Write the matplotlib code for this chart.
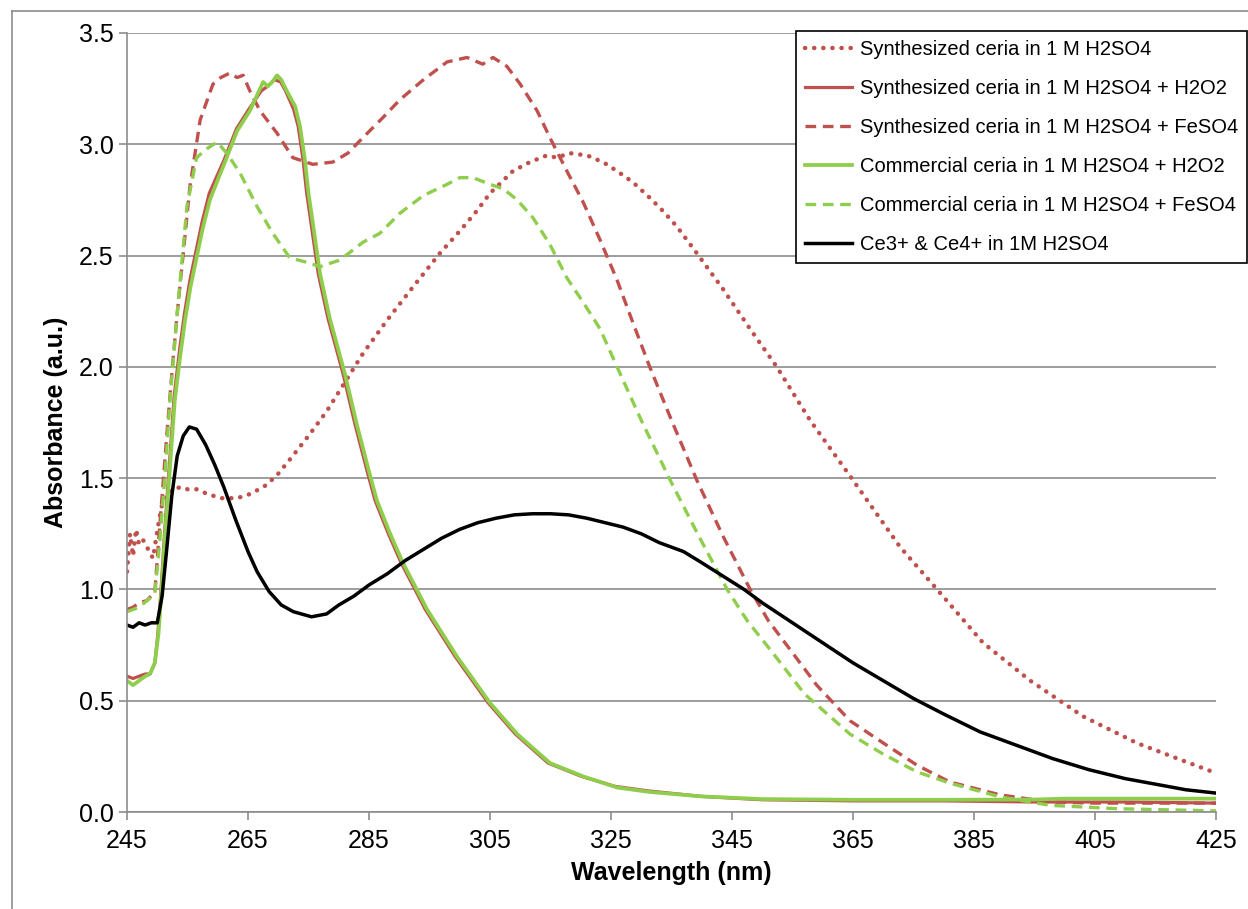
import matplotlib.pyplot as plt
from matplotlib.lines import Line2D

plt.rcParams["font.family"] = ["Liberation Sans", "DejaVu Sans"]

RED = "#c0504d"
GREEN = "#8fce4c"

# Synthesized ceria in 1 M H2SO4 (dotted)
syn_wl = [245, 245.5, 246, 246.5, 247, 247.7, 248.5, 249.3, 250.1, 251, 252, 253.8,
          255, 256.5, 258.2, 260.5, 263.2, 265.5, 268.1, 270, 272.4, 275, 278, 281,
          284, 288, 292.3, 296.7, 300, 302.8, 305, 308.8, 311.6, 314.4, 316, 318.2,
          321, 322, 324.3, 326.5, 328.6, 331.4, 333.6, 335.9, 339.2, 343.5, 348,
          352.4, 357.9, 364.5, 372.8, 378.9, 386.5, 394.3, 403, 411.9, 419.6, 425]
syn_abs = [1.08, 1.25, 1.15, 1.27, 1.20, 1.22, 1.18, 1.14, 1.28, 1.41, 1.44, 1.46,
           1.45, 1.45, 1.43, 1.41, 1.41, 1.43, 1.47, 1.52, 1.60, 1.69, 1.80, 1.93,
           2.06, 2.21, 2.36, 2.51, 2.61, 2.70, 2.78, 2.88, 2.92, 2.95, 2.94, 2.96,
           2.95, 2.94, 2.91, 2.87, 2.83, 2.76, 2.70, 2.63, 2.51, 2.35, 2.17,
           2.00, 1.76, 1.51, 1.19, 1.00, 0.76, 0.59, 0.43, 0.31, 0.23, 0.175]

# Synthesized ceria in 1 M H2SO4 + H2O2 (solid red)
syn_h2o2_wl = [245, 246, 247, 248, 248.8, 249.6, 250.1, 250.7, 251.2, 252.0, 252.8,
               253.7, 254.5, 255.4, 256.4, 257.4, 258.6, 259.9, 260.9, 263.1, 265.2,
               267.2, 268.2, 269.4, 270.4, 271.2, 272.5, 273.3, 274.1, 274.7, 275.5,
               276.6, 278.2, 280.7, 282.7, 284.7, 286.0, 288.2, 290.3, 294.3, 299.2,
               304.7, 309.2, 314.6, 320.1, 325.7, 331.1, 340, 350, 365, 380, 395, 410, 425]
syn_h2o2_abs = [0.61, 0.60, 0.61, 0.62, 0.62, 0.67, 0.80, 1.03, 1.25, 1.56, 1.87,
                2.08, 2.24, 2.39, 2.52, 2.65, 2.78, 2.86, 2.92, 3.07, 3.16,
                3.24, 3.26, 3.29, 3.28, 3.24, 3.16, 3.08, 2.93, 2.78, 2.63,
                2.42, 2.22, 1.97, 1.74, 1.53, 1.40, 1.25, 1.12, 0.91, 0.70,
                0.49, 0.35, 0.22, 0.16, 0.115, 0.095, 0.07, 0.055, 0.05, 0.05, 0.045, 0.045, 0.04]

# Synthesized ceria in 1 M H2SO4 + FeSO4 (dashed red)
syn_fe_wl = [245, 246, 247, 248.3, 249.6, 250.4, 251.6, 252.5, 253.3, 254.3, 255.4,
             257.1, 259.2, 260.5, 262, 263.2, 264.2, 265.3, 267, 269.8, 272.4, 275.7,
             279, 281.5, 284, 287.3, 290.1, 294, 297.9, 301.2, 303.8, 305.5, 307.8,
             310, 312.8, 314.9, 317.7, 320.4, 323.2, 326, 328.6, 331.4, 335, 339.2,
             343.5, 348, 351, 354.6, 359, 364.5, 370, 375.6, 381, 389.3, 397.6, 405,
             415, 425]
syn_fe_abs = [0.91, 0.92, 0.94, 0.95, 0.99, 1.28, 1.70, 2.00, 2.24, 2.51, 2.81,
              3.11, 3.27, 3.30, 3.32, 3.30, 3.31, 3.24, 3.15, 3.05, 2.94, 2.91,
              2.92, 2.96, 3.03, 3.12, 3.20, 3.29, 3.37, 3.39, 3.36, 3.39, 3.35,
              3.27, 3.15, 3.03, 2.88, 2.74, 2.57, 2.39, 2.20, 2.00, 1.76, 1.49,
              1.24, 1.00, 0.86, 0.73, 0.57, 0.41, 0.31, 0.21, 0.135, 0.077, 0.045, 0.04,
              0.04, 0.04]

# Commercial ceria in 1 M H2SO4 + H2O2 (solid green)
com_h2o2_wl = [245, 246, 247, 248, 248.8, 249.6, 250.2, 250.8, 251.3, 252.1, 252.9,
               253.8, 254.6, 255.5, 256.5, 257.5, 258.7, 260, 260.9, 263.2, 265.3,
               267.5, 268.3, 269.0, 269.8, 270.5, 271.4, 272.8, 273.6, 274.4, 275,
               275.8, 276.9, 278.5, 281, 283, 285, 286.3, 288.5, 290.6, 294.6, 299.5,
               305, 309.5, 314.9, 320.4, 326, 331.4, 340, 350, 365, 380, 395, 400,
               410, 425]
com_h2o2_abs = [0.59, 0.57, 0.59, 0.61, 0.62, 0.67, 0.80, 1.03, 1.25, 1.55, 1.85,
                2.05, 2.21, 2.36, 2.49, 2.62, 2.75, 2.84, 2.90, 3.06, 3.15,
                3.28, 3.26, 3.28, 3.31, 3.29, 3.24, 3.17, 3.08, 2.93, 2.78,
                2.63, 2.42, 2.22, 1.97, 1.74, 1.53, 1.40, 1.25, 1.12, 0.91, 0.70,
                0.49, 0.35, 0.22, 0.16, 0.11, 0.09, 0.07, 0.058, 0.055, 0.055, 0.056, 0.06,
                0.06, 0.06]

# Commercial ceria in 1 M H2SO4 + FeSO4 (dashed green)
com_fe_wl = [245, 246, 247, 248.3, 249.6, 250.4, 251.3, 252.1, 253.3, 254.9, 256.5,
             258.2, 259.9, 261.5, 263.7, 266.5, 269.1, 271.9, 274.7, 276.9, 280.2,
             284, 286.8, 290.1, 294, 297.9, 300, 302.2, 305, 307.2, 309.5, 312.1,
             314.9, 317.7, 320.4, 323.2, 326, 330, 334.8, 339.5, 344.2, 347.5, 351.3,
             357, 364.5, 370, 375.6, 381, 389.3, 397.6, 408.6, 425]
com_fe_abs = [0.90, 0.91, 0.92, 0.95, 0.98, 1.21, 1.52, 1.85, 2.24, 2.72, 2.94,
              2.98, 3.01, 2.96, 2.87, 2.72, 2.60, 2.49, 2.47, 2.45, 2.48,
              2.56, 2.60, 2.69, 2.77, 2.82, 2.85, 2.85, 2.82, 2.80, 2.75, 2.67,
              2.55, 2.40, 2.29, 2.17, 2.00, 1.76, 1.49, 1.24, 1.00, 0.86, 0.73,
              0.53, 0.35, 0.26, 0.18, 0.13, 0.068, 0.03, 0.015, 0.005]

# Ce3+ & Ce4+ in 1M H2SO4 (solid black)
ce_wl = [245, 246, 247, 248, 249, 250, 250.8, 251.6, 252.4, 253.3, 254.3, 255.3,
         256.5, 258, 259.5, 261, 263, 265, 266.5, 268.5, 270.5, 272.5, 275.5, 278,
         280, 282.5, 285, 288, 291, 294, 297, 300, 303, 306, 309, 312, 315, 318,
         321, 324, 327, 330, 333, 337, 340, 343.5, 347, 350, 355, 360, 365, 370,
         375, 380, 386, 392, 398, 404, 410, 416, 420, 425]
ce_abs = [0.84, 0.83, 0.85, 0.84, 0.85, 0.85, 0.97, 1.19, 1.42, 1.60, 1.69, 1.73,
          1.72, 1.65, 1.56, 1.46, 1.31, 1.17, 1.08, 0.99, 0.93, 0.90, 0.877, 0.89,
          0.93, 0.97, 1.02, 1.07, 1.13, 1.18, 1.23, 1.27, 1.30, 1.32, 1.335, 1.34, 1.34, 1.335,
          1.32, 1.30, 1.28, 1.25, 1.21, 1.17, 1.12, 1.06, 1.00, 0.94, 0.85, 0.76, 0.67, 0.59,
          0.51, 0.44, 0.36, 0.30, 0.24, 0.19, 0.15, 0.12, 0.10, 0.085]

x_ticks = [245, 265, 285, 305, 325, 345, 365, 385, 405, 425]
y_ticks = [0.0, 0.5, 1.0, 1.5, 2.0, 2.5, 3.0, 3.5]

fig = plt.figure(figsize=(12.48, 9.09), dpi=100)
ax = fig.add_axes([127 / 1248, 1 - 812 / 909, (1216 - 127) / 1248, (812 - 33) / 909])

ax.plot(syn_wl, syn_abs, color=RED, linewidth=3.2, linestyle=(0, (0.05, 2.0)),
        dash_capstyle="round", label="Synthesized ceria in 1 M H2SO4")
ax.plot(syn_h2o2_wl, syn_h2o2_abs, color=RED, linewidth=2.3,
        label="Synthesized ceria in 1 M H2SO4 + H2O2")
ax.plot(syn_fe_wl, syn_fe_abs, color=RED, linewidth=2.4, linestyle=(0, (3.2, 2.0)),
        label="Synthesized ceria in 1 M H2SO4 + FeSO4")
ax.plot(com_h2o2_wl, com_h2o2_abs, color=GREEN, linewidth=2.7,
        label="Commercial ceria in 1 M H2SO4 + H2O2")
ax.plot(com_fe_wl, com_fe_abs, color=GREEN, linewidth=2.4, linestyle=(0, (3.2, 2.0)),
        label="Commercial ceria in 1 M H2SO4 + FeSO4")
ax.plot(ce_wl, ce_abs, color="black", linewidth=2.5, label="Ce3+ & Ce4+ in 1M H2SO4")

ax.set_xlim(245, 425)
ax.set_ylim(0, 3.5)
ax.set_xticks(x_ticks)
ax.set_yticks(y_ticks)
ax.set_yticklabels([f"{v:.1f}" for v in y_ticks])
ax.tick_params(axis="both", labelsize=18, colors="#8c8c8c", labelcolor="black",
               length=6, width=1.2, direction="out")
ax.tick_params(axis="x", pad=6)
ax.grid(axis="y", color="#8c8c8c", linewidth=1.2)
ax.set_axisbelow(True)
for side in ["top", "right"]:
    ax.spines[side].set_visible(False)
for side in ["left", "bottom"]:
    ax.spines[side].set_color("#8c8c8c")
    ax.spines[side].set_linewidth(1.2)

ax.set_xlabel("Wavelength (nm)", fontsize=18, fontweight="bold", labelpad=6)
ax.set_ylabel("Absorbance (a.u.)", fontsize=18, fontweight="bold", labelpad=8)

leg = ax.legend(loc="upper right", bbox_to_anchor=(1247 / 1248, 1 - 31 / 909),
                bbox_transform=fig.transFigure, fontsize=14.5, frameon=True,
                fancybox=False, edgecolor="black", framealpha=1, borderaxespad=0,
                handlelength=2.3, handletextpad=0.4, labelspacing=0.99, borderpad=0.45)
leg.get_frame().set_linewidth(1.2)

# outer chart-area border (top and left edges visible)
fig.add_artist(Line2D([11.5 / 1248, 1], [1 - 10.5 / 909, 1 - 10.5 / 909],
                      transform=fig.transFigure, color="#8c8c8c", linewidth=1.2))
fig.add_artist(Line2D([11.5 / 1248, 11.5 / 1248], [0, 1 - 10.5 / 909],
                      transform=fig.transFigure, color="#8c8c8c", linewidth=1.2))

plt.savefig("out.png", dpi=100)
